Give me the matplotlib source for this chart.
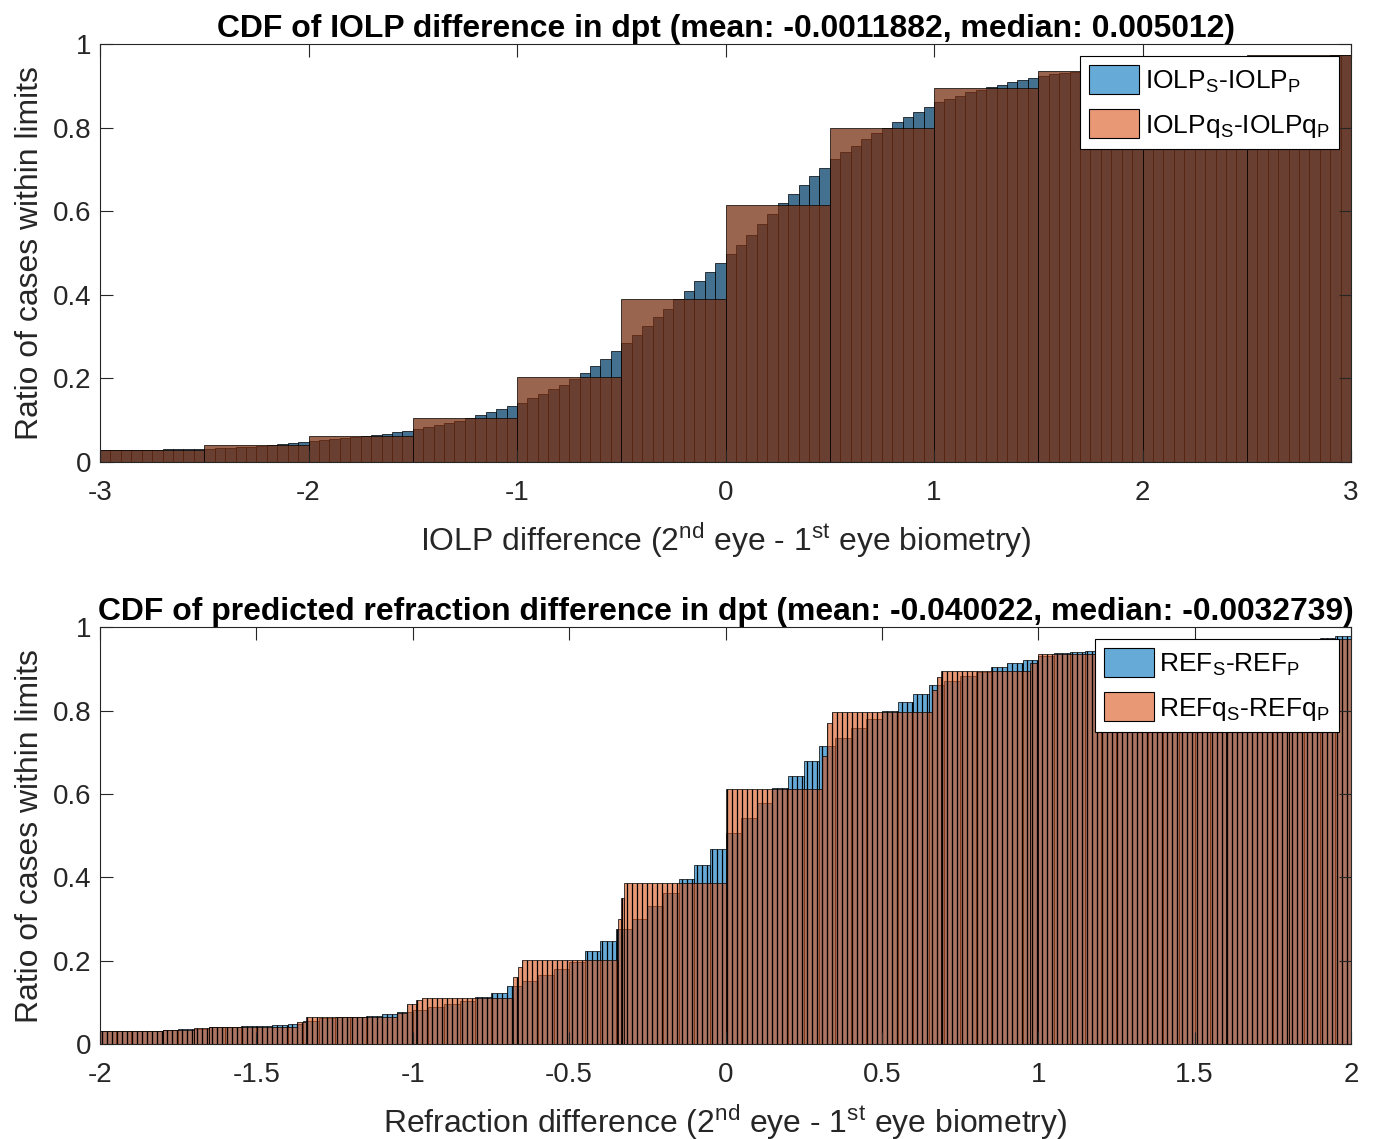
import numpy as np
import matplotlib
matplotlib.use("Agg")
import matplotlib.pyplot as plt
from matplotlib.patches import Patch

# ---- top panel: IOLP difference CDF ----
iolp_bin_left = np.round(np.arange(-3.0, 3.0, 0.05), 3)
iolp_cdf = [
    0.028, 0.028, 0.028, 0.029, 0.029, 0.029, 0.030, 0.030, 0.031, 0.031,
    0.032, 0.033, 0.034, 0.035, 0.037, 0.039, 0.041, 0.043, 0.045, 0.047,
    0.050, 0.052, 0.055, 0.057, 0.059, 0.062, 0.065, 0.068, 0.071, 0.074,
    0.078, 0.083, 0.088, 0.093, 0.099, 0.105, 0.112, 0.119, 0.126, 0.134,
    0.142, 0.152, 0.163, 0.174, 0.185, 0.198, 0.213, 0.229, 0.246, 0.265,
    0.284, 0.304, 0.325, 0.346, 0.367, 0.389, 0.410, 0.432, 0.454, 0.476,
    0.497, 0.520, 0.544, 0.569, 0.594, 0.619, 0.641, 0.662, 0.683, 0.704,
    0.724, 0.741, 0.757, 0.772, 0.787, 0.800, 0.813, 0.825, 0.837, 0.849,
    0.860, 0.868, 0.876, 0.884, 0.891, 0.897, 0.903, 0.909, 0.914, 0.919,
    0.923, 0.927, 0.930, 0.933, 0.936, 0.938, 0.941, 0.943, 0.945, 0.947,
    0.949, 0.951, 0.952, 0.953, 0.955, 0.956, 0.957, 0.959, 0.960, 0.962,
    0.963, 0.965, 0.966, 0.967, 0.968, 0.970, 0.971, 0.972, 0.973, 0.974,
]
iolpq_edges = [-3.0, -2.5, -2.0, -1.5, -1.0, -0.5, 0.0, 0.5, 1.0, 1.5, 2.0, 2.5, 3.0]
iolpq_cdf = [0.029, 0.040, 0.063, 0.106, 0.203, 0.390, 0.615, 0.798, 0.894, 0.936, 0.955, 0.973]

# ---- bottom panel: predicted refraction difference CDF ----
ref_bin_left = np.round(np.arange(-2.0, 2.0, 0.05), 3)
ref_cdf = [
    0.031, 0.031, 0.032, 0.032, 0.033, 0.035, 0.037, 0.040, 0.041, 0.042,
    0.044, 0.046, 0.049, 0.056, 0.063, 0.064, 0.065, 0.067, 0.072, 0.077,
    0.082, 0.089, 0.096, 0.104, 0.113, 0.123, 0.138, 0.152, 0.165, 0.180,
    0.197, 0.222, 0.246, 0.277, 0.300, 0.331, 0.362, 0.395, 0.430, 0.468,
    0.505, 0.541, 0.578, 0.613, 0.643, 0.680, 0.715, 0.735, 0.757, 0.779,
    0.800, 0.820, 0.840, 0.860, 0.870, 0.882, 0.892, 0.904, 0.915, 0.922,
    0.930, 0.937, 0.940, 0.942, 0.944, 0.946, 0.948, 0.950, 0.952, 0.954,
    0.956, 0.958, 0.960, 0.962, 0.964, 0.967, 0.970, 0.972, 0.975, 0.978,
]
refq_edges = [-2.0, -1.8, -1.7, -1.65, -1.37, -1.34, -1.05, -1.02, -0.99, -0.97,
              -0.68, -0.665, -0.65, -0.345, -0.335, -0.325, 0.0, 0.31, 0.325,
              0.34, 0.66, 0.675, 0.69, 0.975, 1.0, 1.3, 1.6, 1.8, 2.0]
refq_cdf = [0.031, 0.034, 0.038, 0.041, 0.052, 0.064, 0.075, 0.095, 0.105,
            0.110, 0.160, 0.185, 0.201, 0.300, 0.350, 0.386, 0.612, 0.690,
            0.770, 0.797, 0.850, 0.880, 0.894, 0.915, 0.936, 0.942, 0.955, 0.972]

BLUE = (0.4, 0.668, 0.845, 1.0)
ORANGE = (0.91, 0.595, 0.459, 1.0)
BLUE_A = (0.0, 0.447, 0.741, 0.6)
ORANGE_A = (0.85, 0.325, 0.098, 0.6)
AXC = (0.15, 0.15, 0.15)

# dpi 120 so the hatch lines fall on whole pixels (2 px / 5 px spacing)
DPI = 120
PT = 100.0 / DPI   # sizes below were tuned at 100 dpi

plt.rcParams["font.family"] = ["Liberation Sans", "DejaVu Sans"]
plt.rcParams["axes.unicode_minus"] = False
plt.rcParams["hatch.color"] = "black"


def draw_panel(ax, left, vals, q_edges, q_vals, step, xlim, xticks, xtlabels,
               hatch, hatch_lw, title, xlabel, leg_labels):
    plt.rcParams["hatch.linewidth"] = hatch_lw
    left = np.asarray(left)
    b1 = ax.bar(left, vals, width=step, align="edge", color=BLUE_A,
                edgecolor="black", linewidth=0.5 * PT, hatch=hatch)
    q_edges = np.asarray(q_edges)
    b2 = ax.bar(q_edges[:-1], q_vals, width=np.diff(q_edges), align="edge",
                color=ORANGE_A, edgecolor="black", linewidth=0.5 * PT, hatch=hatch)
    for p in list(b1) + list(b2):
        if hasattr(p, "set_hatch_linewidth"):
            p.set_hatch_linewidth(hatch_lw)
    ax.set_xlim(*xlim)
    ax.set_ylim(0, 1)
    ax.set_xticks(xticks)
    ax.set_xticklabels(xtlabels)
    ax.set_yticks([0, 0.2, 0.4, 0.6, 0.8, 1])
    ax.set_yticklabels(["0", "0.2", "0.4", "0.6", "0.8", "1"])
    ax.tick_params(direction="in", length=9 * PT, width=0.8 * PT, colors=AXC,
                   labelcolor=AXC, labelsize=20 * PT, top=True, right=True,
                   pad=6 * PT)
    ax.tick_params(axis="x", pad=13 * PT)
    for s in ax.spines.values():
        s.set_color(AXC)
        s.set_linewidth(0.8 * PT)
    ax.set_title(title, fontsize=23 * PT, fontweight="bold", pad=5 * PT)
    ax.set_xlabel(xlabel, fontsize=23 * PT, labelpad=10 * PT, color=AXC)
    ax.set_ylabel("Ratio of cases within limits", fontsize=23 * PT,
                  labelpad=6 * PT, color=AXC)
    handles = [Patch(facecolor=BLUE, edgecolor="black", linewidth=0.8 * PT),
               Patch(facecolor=ORANGE, edgecolor="black", linewidth=0.8 * PT)]
    leg = ax.legend(handles, leg_labels, loc="upper right", fontsize=19 * PT,
                    frameon=True, fancybox=False, framealpha=1,
                    edgecolor="black", borderaxespad=0.45, handlelength=1.9,
                    handleheight=1.3, handletextpad=0.2, borderpad=0.35,
                    labelspacing=0.55)
    leg.get_frame().set_linewidth(0.8 * PT)


fig = plt.figure(figsize=(1374 / DPI, 1139 / DPI), dpi=DPI)
ax1 = fig.add_axes([0.0728, 0.5944, 0.9105, 0.367])
ax2 = fig.add_axes([0.0728, 0.0834, 0.9105, 0.366])

draw_panel(ax1, iolp_bin_left, iolp_cdf, iolpq_edges, iolpq_cdf, 0.05,
           (-3, 3), [-3, -2, -1, 0, 1, 2, 3], ["-3", "-2", "-1", "0", "1", "2", "3"],
           "|" * 10, 0.4,
           "CDF of IOLP difference in dpt (mean: -0.0011882, median: 0.005012)",
           "IOLP difference (2$^{\\mathregular{nd}}$ eye - 1$^{\\mathregular{st}}$ eye biometry)",
           ["IOLP$_{\\mathregular{S}}$-IOLP$_{\\mathregular{P}}$",
            "IOLPq$_{\\mathregular{S}}$-IOLPq$_{\\mathregular{P}}$"])

draw_panel(ax2, ref_bin_left, ref_cdf, refq_edges, refq_cdf, 0.05,
           (-2, 2), [-2, -1.5, -1, -0.5, 0, 0.5, 1, 1.5, 2],
           ["-2", "-1.5", "-1", "-0.5", "0", "0.5", "1", "1.5", "2"],
           "|" * 4, 0.75,
           "CDF of predicted refraction difference in dpt (mean: -0.040022, median: -0.0032739)",
           "Refraction difference (2$^{\\mathregular{nd}}$ eye - 1$^{\\mathregular{st}}$ eye biometry)",
           ["REF$_{\\mathregular{S}}$-REF$_{\\mathregular{P}}$",
            "REFq$_{\\mathregular{S}}$-REFq$_{\\mathregular{P}}$"])

fig.savefig("out.png", dpi=DPI)
